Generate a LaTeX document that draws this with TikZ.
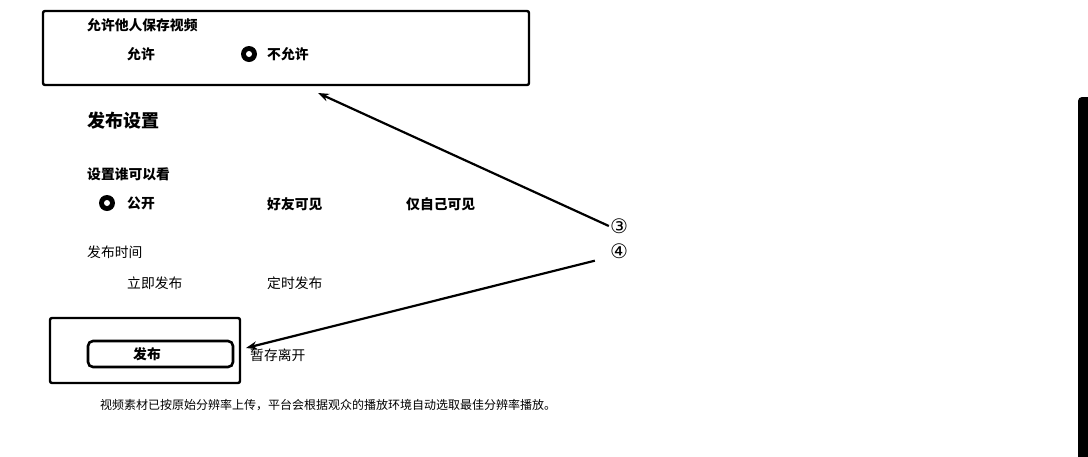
\documentclass[tikz,border=0pt]{standalone}
\usepackage{fontspec}
\setmainfont{Noto Sans CJK SC}
\newfontfamily\symfont{DejaVu Sans}
\usetikzlibrary{arrows.meta}

\begin{document}
\begin{tikzpicture}[x=1pt,y=-1pt,
    panel/.style={draw, line width=2.4pt, rounded corners=2pt},
    label/.style={anchor=west, inner sep=0pt, font=\fontsize{13.8}{14}\selectfont},
    boldlabel/.style={label, font=\fontsize{13.8}{14}\selectfont\bfseries},
    radio/.style={circle, fill=black, minimum size=16pt, inner sep=0pt},
    pointer/.style={-{Stealth[length=11pt,width=8pt]}, line width=2.2pt}]
    \useasboundingbox (0,0) rectangle (1088,456);
    % top panel
    \draw[panel] (43,11) rectangle (529,85);
    \node[boldlabel] (save) at (87,25) {允许他人保存视频};
    \node[boldlabel] (allow) at (127,54) {允许};
    \node[radio] (r_1) at (249,54) {};
    \fill[white] (r_1) circle (3);
    \node[boldlabel] (deny) at (267,54) {不允许};
    \coordinate (t_3) at (318,93);
    %
    \node[boldlabel, font=\fontsize{18}{18}\selectfont\bfseries] (title) at (87,121) {发布设置};
    \node[boldlabel] (who) at (87,174) {设置谁可以看};
    \node[radio] (r_2) at (107,203) {};
    \fill[white] (r_2) circle (3);
    \node[boldlabel] (pub) at (127,203) {公开};
    \node[boldlabel] (friends) at (267,204) {好友可见};
    \node[boldlabel] (self) at (406,204) {仅自己可见};
    %
    \node[label] (time) at (87,252) {发布时间};
    \node[label] (now) at (127,283) {立即发布};
    \node[label] (later) at (267,283) {定时发布};
    % bottom panel
    \draw[panel] (50,318) rectangle (240,383);
    \draw[panel, line width=2.6pt, rounded corners=5pt] (88,341) rectangle (233,367);
    \node[boldlabel, anchor=center] (send) at (147,354) {发布};
    \node[label] (draft) at (250,355) {暂存离开};
    \coordinate (t_4) at (246,348);
    \node[label, font=\fontsize{12}{12}\selectfont] (note) at (100,405)
      {视频素材已按原始分辨率上传，平台会根据观众的播放环境自动选取最佳分辨率播放。};
    % markers
    \node[font=\symfont\fontsize{20}{20}\selectfont, inner sep=1pt] (n_3) at (619,226) {③};
    \node[font=\symfont\fontsize{20}{20}\selectfont, inner sep=1pt] (n_4) at (619,251) {④};
    \draw[pointer] (n_3.west) -- (t_3);
    \draw[pointer] (n_4.south west) ++(-14,1) coordinate (s_4) (s_4) -- (t_4);
    % clipped panel on the right
    \fill[rounded corners=4pt] (1078,97) rectangle (1100,470);
\end{tikzpicture}
\end{document}
